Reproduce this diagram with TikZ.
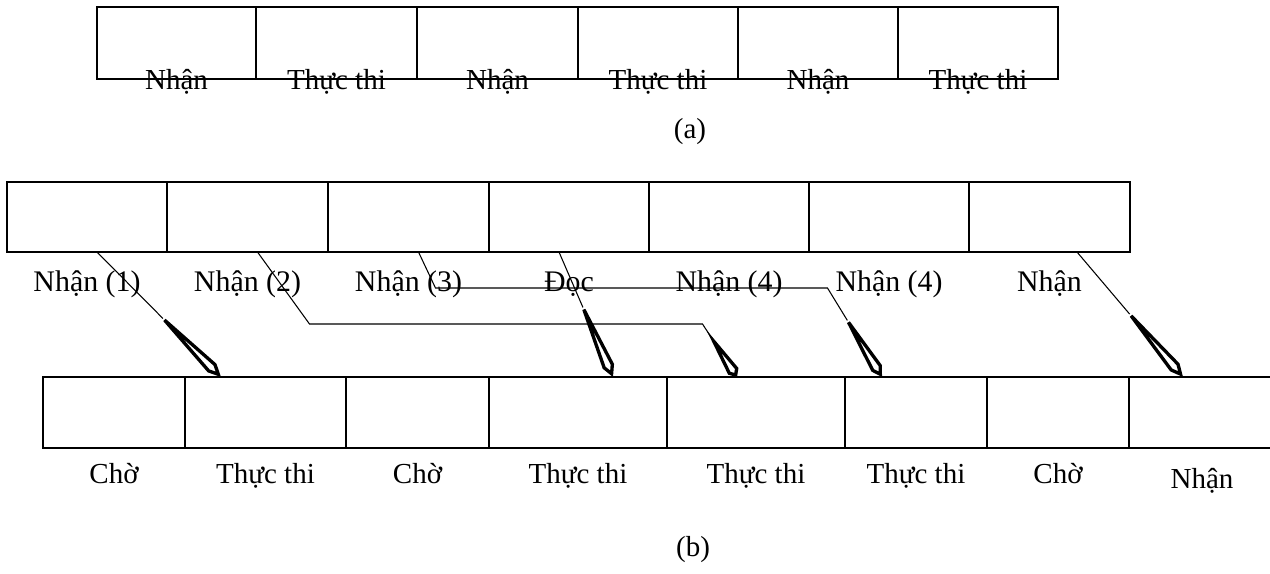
\documentclass[tikz,border=0pt]{standalone}
\usepackage{fontspec}
\setmainfont{Liberation Serif}
\usetikzlibrary{arrows.meta,calc}

\tikzset{
    cell/.style={draw, line width=1pt, inner sep=0pt, outer sep=0pt},
    lbl/.style={anchor=base, inner sep=0pt, font=\fontsize{16.5}{19}\selectfont},
    feed/.style={line width=0.6pt,
        -{Kite[open, length=#1, width=7pt, inset'=0pt 0.88, line width=1.9pt]}},
    feed/.default=40pt,
}

\begin{document}
\begin{tikzpicture}[x=0.2mm, y=-0.2mm]
    \clip (0,0) rectangle (1270,573);

    % (a) fetch and execute one after the other
    \foreach \l/\r/\t [count=\i] in {97/256/Nhận, 256/417/Thực thi, 417/578/Nhận,
        578/738/Thực thi, 738/898/Nhận, 898/1058/Thực thi}{
        \node[cell, minimum width={(\r-\l)*0.2mm}, minimum height=14.4mm] (a\i) at ({(\l+\r)/2},43) {};
        \node[lbl] (ta\i) at ({(\l+\r)/2},89) {\t};
    }
    \node[lbl] (capa) at (690,138) {(a)};

    % (b) fetch stage
    \foreach \l/\r/\t [count=\i] in {7/167/Nhận (1), 167/328/Nhận (2), 328/489/Nhận (3),
        489/649/Đọc, 649/809/Nhận (4), 809/969/Nhận (4), 969/1130/Nhận}{
        \node[cell, minimum width={(\r-\l)*0.2mm}, minimum height=14mm] (b\i) at ({(\l+\r)/2},217) {};
        \node[lbl, font=\fontsize{17}{20}\selectfont] (tb\i) at ({(\l+\r)/2},291) {\t};
    }

    % (b) execute stage
    \foreach \l/\r/\t [count=\i] in {43/185/Chờ, 185/346/Thực thi, 346/489/Chờ,
        489/667/Thực thi, 667/845/Thực thi, 845/987/Thực thi, 987/1129/Chờ}{
        \node[cell, minimum width={(\r-\l)*0.2mm}, minimum height=14.2mm] (c\i) at ({(\l+\r)/2},412.5) {};
        \node[lbl] (tc\i) at ({(\l+\r)/2},483) {\t};
    }
    \node[cell, minimum width=29.2mm, minimum height=14.2mm] (c8) at (1202,412.5) {};
    \node[lbl] (tc8) at (1202,488) {Nhận};
    \node[lbl] (capb) at (693,556) {(b)};

    % hand-over from fetch to execute
    \draw[feed=60pt] ($(b1.south)+(10,0)$) -- ($(c2.north)+(-44.5,0)$);
    \draw[feed=32pt] ($(b2.south)+(10,0)$) -- ++(52,72) -- ++(393,0) -- ($(c5.north)+(-19,0)$);
    \draw[feed=48pt] ($(b3.south)+(10,0)$) -- ++(17,36) -- ++(392,0) -- ($(c6.north)+(-34,0)$);
    \draw[feed=55pt] ($(b4.south)+(-10,0)$) -- ($(c4.north)+(35,0)$);
    \draw[feed=60pt] ($(b7.south)+(27.5,0)$) -- ($(c8.north)+(-19,0)$);
\end{tikzpicture}
\end{document}
